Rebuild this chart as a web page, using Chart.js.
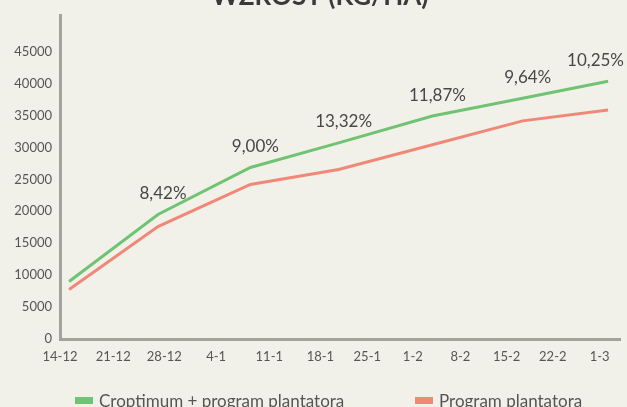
<!DOCTYPE html>
<html>
<head>
<meta charset="utf-8">
<script src="https://cdn.jsdelivr.net/npm/chart.js@4/dist/chart.umd.min.js"></script>
<style>
  html, body { margin: 0; padding: 0; background: #F2F1E9; }
  #wrap { width: 627px; height: 407px; position: relative; }
</style>
</head>
<body>
<div id="wrap"><canvas id="c" width="627" height="407"></canvas></div>
<script>
// ---- data ----
const chartTitle = "WZROST (KG/HA)";
const tickLabels = ["14-12","21-12","28-12","4-1","11-1","18-1","25-1","1-2","8-2","15-2","22-2","1-3"];
const tickPositions = [0, 7.6, 14.9, 22.3, 29.9, 37.2, 43.9, 50.4, 57.2, 63.8, 70.4, 77.1];
const pointPositions = [1.3, 14, 27.2, 39.8, 53.2, 66.1, 78.3];
const croptimumValues = [9000, 19500, 26850, 30700, 34900, 37700, 40350];
const plantatorValues = [7750, 17600, 24200, 26550, 30400, 34150, 35850];
const increaseLabels = ["", "8,42%", "9,00%", "13,32%", "11,87%", "9,64%", "10,25%"];
const seriesNames = ["Croptimum + program plantatora", "Program plantatora"];
const yTicks = [0, 5000, 10000, 15000, 20000, 25000, 30000, 35000, 40000, 45000];

const GREEN = "#70C372";
const RED = "#F08877";
const AXIS = "#A4A39B";
const FONT = "Lato, 'Open Sans', sans-serif";

const toXY = (xs, ys) => xs.map((x, i) => ({ x: x, y: ys[i] }));

const titlePlugin = {
  id: "cutTitle",
  afterDraw(chart) {
    const ctx = chart.ctx;
    ctx.save();
    ctx.font = "bold 26px " + FONT;
    ctx.fillStyle = "#3A3A3A";
    ctx.textAlign = "center";
    ctx.textBaseline = "alphabetic";
    ctx.fillText(chartTitle, 320, 5);
    ctx.restore();
  }
};

const pctPlugin = {
  id: "pctLabels",
  afterDatasetsDraw(chart) {
    const ctx = chart.ctx;
    const meta = chart.getDatasetMeta(0);
    ctx.save();
    ctx.font = "17px " + FONT;
    ctx.fillStyle = "#474747";
    ctx.textAlign = "center";
    ctx.textBaseline = "middle";
    meta.data.forEach((pt, i) => {
      const txt = increaseLabels[i];
      if (!txt) return;
      const w = ctx.measureText(txt).width;
      let x = pt.x + 5;
      if (x + w / 2 > chart.width - 3) x = chart.width - 3 - w / 2;
      ctx.fillText(txt, x, pt.y - 21);
    });
    ctx.restore();
  }
};

const legendPlugin = {
  id: "customLegend",
  afterDraw(chart) {
    const ctx = chart.ctx;
    const starts = [75, 415];
    const y = 402;
    ctx.save();
    ctx.font = "17px " + FONT;
    ctx.textBaseline = "middle";
    ctx.textAlign = "left";
    chart.data.datasets.forEach((ds, i) => {
      ctx.fillStyle = ds.borderColor;
      ctx.fillRect(starts[i], y - 5, 18, 7);
      ctx.fillStyle = "#555555";
      ctx.fillText(ds.label, starts[i] + 24, y);
    });
    ctx.restore();
  }
};

new Chart(document.getElementById("c"), {
  type: "line",
  data: {
    datasets: [
      { label: seriesNames[0], data: toXY(pointPositions, croptimumValues),
        borderColor: GREEN, backgroundColor: GREEN, borderWidth: 3, pointRadius: 0, tension: 0 },
      { label: seriesNames[1], data: toXY(pointPositions, plantatorValues),
        borderColor: RED, backgroundColor: RED, borderWidth: 3, pointRadius: 0, tension: 0 }
    ]
  },
  options: {
    responsive: false,
    animation: false,
    layout: { padding: { top: 13, right: 7, bottom: 0, left: 0 } },
    plugins: { legend: { display: false }, title: { display: false }, tooltip: { enabled: false } },
    scales: {
      x: {
        type: "linear", min: 0, max: 80,
        grid: { display: false, drawTicks: false },
        border: { display: true, color: AXIS, width: 3 },
        afterBuildTicks(scale) { scale.ticks = tickPositions.map(v => ({ value: v })); },
        afterFit(scale) { scale.height = 68; },
        ticks: {
          autoSkip: false, maxRotation: 0, padding: 10,
          color: "#555555", font: { family: FONT, size: 13 },
          callback(value, index) { return tickLabels[index]; }
        }
      },
      y: {
        min: 0, max: 50600,
        grid: { display: false, drawTicks: false },
        border: { display: true, color: AXIS, width: 3 },
        afterBuildTicks(scale) { scale.ticks = yTicks.map(v => ({ value: v })); },
        afterFit(scale) { scale.width = 60; },
        ticks: {
          padding: 8, color: "#555555", font: { family: FONT, size: 13 },
          callback(value) { return String(value); }
        }
      }
    }
  },
  plugins: [titlePlugin, pctPlugin, legendPlugin]
});
</script>
</body>
</html>
